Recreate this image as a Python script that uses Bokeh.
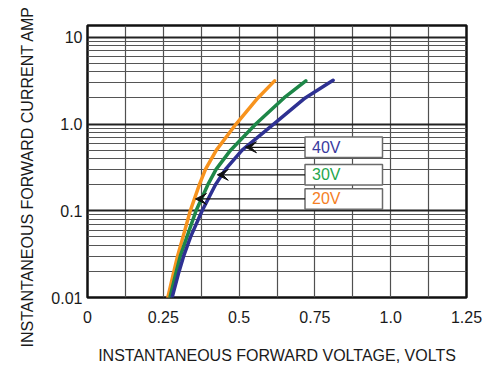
import math
from bokeh.plotting import figure
from bokeh.models import FixedTicker, Title, Arrow, VeeHead, Range1d
from bokeh.core.properties import value
from bokeh.embed import file_html
from bokeh.resources import INLINE

# ---- data ----
i20 = [0.01, 0.02, 0.03, 0.05, 0.10, 0.20, 0.30, 0.50, 1.0, 2.0, 3.15]
v20 = [0.265, 0.285, 0.297, 0.315, 0.339, 0.369, 0.389, 0.425, 0.490, 0.562, 0.617]

i30 = [0.01, 0.02, 0.03, 0.05, 0.10, 0.20, 0.30, 0.50, 1.0, 2.0, 3.15]
v30 = [0.272, 0.293, 0.306, 0.328, 0.358, 0.397, 0.424, 0.472, 0.555, 0.648, 0.720]

i40 = [0.01, 0.02, 0.03, 0.05, 0.10, 0.20, 0.30, 0.50, 1.0, 2.0, 3.2]
v40 = [0.279, 0.302, 0.317, 0.340, 0.378, 0.422, 0.455, 0.510, 0.614, 0.718, 0.810]

series_names = ["40V", "30V", "20V"]
arrow_current = [0.54, 0.26, 0.137]     # current level where each callout arrow points
arrow_voltage = [0.521, 0.428, 0.356]   # voltage at arrow tip

x_ticks = [0, 0.25, 0.5, 0.75, 1.0, 1.25]
x_tick_labels = ["0", "0.25", "0.5", "0.75", "1.0", "1.25"]
y_ticks = [0.01, 0.1, 1.0, 10.0]
y_tick_labels = ["0.01", "0.1", "1.0", "10"]

FONT = "Liberation Sans"
curve_colors = {"20V": "#F7931E", "30V": "#1E8748", "40V": "#2E3192"}
text_colors = {"20V": "#F58025", "30V": "#1FA64E", "40V": "#3A3A9E"}

W, H = 483, 367
X0, X1, Y0, Y1 = 0.0, 1.25, 0.01, 13.7
p = figure(width=W, height=H, output_backend="svg", toolbar_location=None,
           y_axis_type="log", x_range=Range1d(X0, X1), y_range=Range1d(Y0, Y1),
           min_border_left=87, min_border_right=17, min_border_top=25, min_border_bottom=70)
p.background_fill_color = "white"
p.border_fill_color = "white"
p.outline_line_color = "#111111"
p.outline_line_width = 2.5

FW = W - 87 - 17


def px_to_x(dx):       # horizontal pixel offset from frame left -> data x
    return X0 + dx / FW * (X1 - X0)


# x axis
xminor = [0.125, 0.375, 0.625, 0.875, 1.125]
p.xaxis.ticker = FixedTicker(ticks=x_ticks, minor_ticks=xminor)
p.xaxis.major_label_overrides = {t: l for t, l in zip(x_ticks, x_tick_labels)}
# y axis
yminor = [m * 10.0 ** e for e in range(-2, 1) for m in range(2, 10)]
p.yaxis.ticker = FixedTicker(ticks=y_ticks, minor_ticks=yminor)
p.yaxis.major_label_overrides = {t: l for t, l in zip(y_ticks, y_tick_labels)}

for ax in (p.xaxis[0], p.yaxis[0]):
    ax.axis_line_color = None
    ax.major_tick_line_color = None
    ax.minor_tick_line_color = None
    ax.major_tick_out = 0
    ax.major_tick_in = 0
    ax.minor_tick_out = 0
    ax.major_label_text_font = FONT
    ax.major_label_text_font_size = "16px"
    ax.major_label_text_color = "#1a1a1a"
p.xaxis.major_label_standoff = 13
p.yaxis.major_label_standoff = 5

p.xaxis.axis_label = "INSTANTANEOUS FORWARD VOLTAGE, VOLTS"
p.xaxis.axis_label_text_font = FONT
p.xaxis.axis_label_text_font_size = "16px"
p.xaxis.axis_label_text_font_style = "normal"
p.xaxis.axis_label_text_color = "#1a1a1a"
p.xaxis.axis_label_standoff = 21

p.xgrid.grid_line_color = "#505050"
p.xgrid.grid_line_width = 1.2
p.xgrid.minor_grid_line_color = "#505050"
p.xgrid.minor_grid_line_width = 1.2
p.ygrid.grid_line_color = "#222222"
p.ygrid.grid_line_width = 2
p.ygrid.minor_grid_line_color = "#555555"
p.ygrid.minor_grid_line_width = 1

# curves
for vv, ii, nm in ((v20, i20, "20V"), (v30, i30, "30V"), (v40, i40, "40V")):
    p.line(vv, ii, line_color=curve_colors[nm], line_width=3.5, line_join="round", line_cap="round")

# callouts
box_left, box_right, text_x = px_to_x(217.5), px_to_x(295), px_to_x(224.5)
half = 10 ** 0.118
for name, ic, va in zip(series_names, arrow_current, arrow_voltage):
    p.add_layout(Arrow(end=VeeHead(size=11, fill_color="#111111", line_color="#111111", line_width=1),
                       x_start=box_left, y_start=ic, x_end=va, y_end=ic,
                       line_color="#111111", line_width=1.3))
    p.quad(left=[box_left], right=[box_right], bottom=[ic / half], top=[ic * half],
           fill_color="white", line_color="#6a6a6a", line_width=1.5)
    p.text(x=[text_x], y=[ic], text=[name], text_color=text_colors[name],
           text_font=value(FONT), text_font_size="16px",
           text_align="left", text_baseline="middle")

# y axis title
p.add_layout(Title(text="INSTANTANEOUS FORWARD CURRENT AMP", align="left", offset=-50,
                   text_font=FONT, text_font_size="16px", text_font_style="normal",
                   text_color="#1a1a1a", standoff=26), "left")

open("out.html", "w").write(file_html(p, INLINE))
